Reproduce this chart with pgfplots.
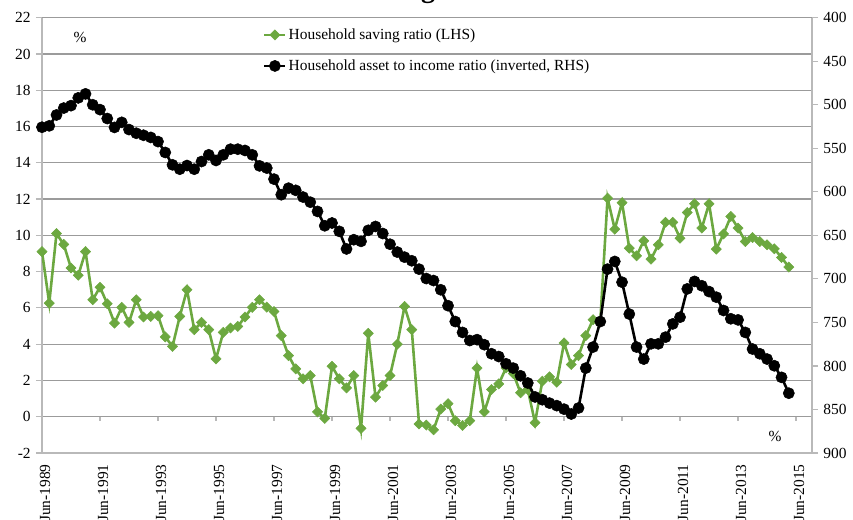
\documentclass[border=0pt]{standalone}
\usepackage{fontspec}
\setmainfont{Liberation Serif}
\usepackage{pgfplots}
\pgfplotsset{compat=1.18}
\usepackage{pgfplotstable}
\definecolor{sgreen}{RGB}{108,168,64}
\definecolor{gridc}{RGB}{155,155,155}
\definecolor{axisc}{RGB}{185,185,185}

\pgfplotstableread{
i saving
0 9.10
1 6.26
2 10.10
3 9.50
4 8.20
5 7.80
6 9.10
7 6.45
8 7.14
9 6.23
10 5.16
11 6.03
12 5.20
13 6.45
14 5.50
15 5.53
16 5.57
17 4.40
18 3.88
19 5.53
20 7.00
21 4.80
22 5.20
23 4.80
24 3.19
25 4.65
26 4.89
27 4.98
28 5.50
29 6.03
30 6.45
31 6.04
32 5.80
33 4.47
34 3.37
35 2.64
36 2.09
37 2.27
38 0.27
39 -0.09
40 2.78
41 2.09
42 1.59
43 2.27
44 -0.64
45 4.60
46 1.08
47 1.72
48 2.27
49 4.00
50 6.08
51 4.80
52 -0.40
53 -0.46
54 -0.72
55 0.42
56 0.72
57 -0.22
58 -0.48
59 -0.22
60 2.68
61 0.27
62 1.50
63 1.81
64 2.69
65 2.38
66 1.32
67 1.50
68 -0.33
69 1.96
70 2.20
71 1.90
72 4.07
73 2.88
74 3.37
75 4.47
76 5.35
77 5.25
78 12.05
79 10.34
80 11.80
81 9.29
82 8.87
83 9.70
84 8.69
85 9.48
86 10.72
87 10.72
88 9.84
89 11.26
90 11.74
91 10.40
92 11.74
93 9.24
94 10.08
95 11.04
96 10.40
97 9.66
98 9.88
99 9.66
100 9.48
101 9.26
102 8.78
103 8.25
}\savingtab

\pgfplotstableread{
i asset
0 525.8
1 524.2
2 511.7
3 503.8
4 501.0
5 492.1
6 487.5
7 500.0
8 505.6
9 515.8
10 526.0
11 520.2
12 528.5
13 532.7
14 535.0
15 537.5
16 542.3
17 554.8
18 569.0
19 574.0
20 569.8
21 574.0
22 565.2
23 557.5
24 564.0
25 557.5
26 551.0
27 551.0
28 552.5
29 557.5
30 570.2
31 572.7
32 585.4
33 603.3
34 595.8
35 598.3
36 606.0
37 611.9
38 622.5
39 639.0
40 635.8
41 645.4
42 665.6
43 655.0
44 656.9
45 644.2
46 639.8
47 647.9
48 660.2
49 669.2
50 675.0
51 679.2
52 688.8
53 699.6
54 701.9
55 712.5
56 730.8
57 749.0
58 761.5
59 770.8
60 769.8
61 775.6
62 786.0
63 789.2
64 797.5
65 802.5
66 811.3
67 819.6
68 835.6
69 838.8
70 842.7
71 845.6
72 849.6
73 855.2
74 848.3
75 802.5
76 778.3
77 749.0
78 688.8
79 680.0
80 703.8
81 740.4
82 778.3
83 792.1
84 774.6
85 774.6
86 766.9
87 751.7
88 744.0
89 711.5
90 702.9
91 707.9
92 714.6
93 721.0
94 736.3
95 745.8
96 747.1
97 761.5
98 780.6
99 786.0
100 792.1
101 799.8
102 813.1
103 831.3
}\assettab

\pgfplotsset{
  common/.style={
    width=770bp, height=435.3bp, scale only axis,
    at={(0bp,0bp)}, anchor=south west,
    xmin=0, xmax=106.2,
    axis line style={axisc, line width=1.4bp},
    tick style={axisc, line width=1.2bp},
    major tick length=6bp,
    tick align=outside,
    /pgf/number format/assume math mode=true,
    tick label style={font=\fontsize{15.5}{18}\selectfont, text=black},
  },
  greenline/.style={sgreen, line width=2.6bp, mark=square*, mark size=3.6bp,
    mark options={rotate=45, fill=sgreen, draw=sgreen, line width=0.5bp}},
  blackline/.style={black, line width=2.6bp, mark=*, mark size=5.6bp,
    mark options={fill=black, draw=black, line width=0.5bp}},
}

\begin{document}
\fontsize{15.5}{18}\selectfont
\begin{tikzpicture}
\begin{axis}[common,
  ymin=-2, ymax=22, ytick={-2,0,...,22},
  axis y line*=left, axis x line*=bottom,
  ymajorgrids, grid style={gridc, line width=1.2bp},
  xtick={0,8,...,104},
  xticklabels={Jun-1989,Jun-1991,Jun-1993,Jun-1995,Jun-1997,Jun-1999,Jun-2001,Jun-2003,Jun-2005,Jun-2007,Jun-2009,Jun-2011,Jun-2013,Jun-2015},
  x tick style={draw=none},
  xticklabel style={rotate=90, anchor=east, yshift=-3bp},
  legend style={draw=none, fill=none, at={(0.283,0.985)}, anchor=north west,
    font=\fontsize{15.5}{18}\selectfont, row sep=14bp},
  legend cell align=left,
  legend image code/.code={\draw[mark repeat=2,mark phase=2,#1] plot coordinates {(0bp,0bp) (10.5bp,0bp) (21bp,0bp)};},
]
\addplot[greenline] table[x=i, y=saving] {\savingtab};
\addlegendentry{Household saving ratio (LHS)}
\addlegendimage{blackline}
\addlegendentry{Household asset to income ratio (inverted, RHS)}
\pgfplotsinvokeforeach{0,8,...,104}{\draw[axisc, line width=1.2bp] (axis cs:#1,0) -- ([yshift=-4.5bp]axis cs:#1,0);}
\node[font=\fontsize{15.5}{18}\selectfont] at (rel axis cs:0.0493,0.955) {\%};
\node[font=\fontsize{15.5}{18}\selectfont] at (rel axis cs:0.952,0.037) {\%};
\end{axis}
\begin{axis}[common,
  ymin=400, ymax=900, y dir=reverse, ytick={400,450,...,900},
  axis y line*=right, axis x line=none,
  xtick=\empty,
]
\addplot[blackline] table[x=i, y=asset] {\assettab};
\end{axis}
\node[font=\bfseries\fontsize{28}{30}\selectfont, anchor=base] at (386bp,455bp) {g};
\pgfresetboundingbox
\path[use as bounding box] (-42bp,-67bp) rectangle (811bp,453bp);
\end{tikzpicture}
\end{document}
